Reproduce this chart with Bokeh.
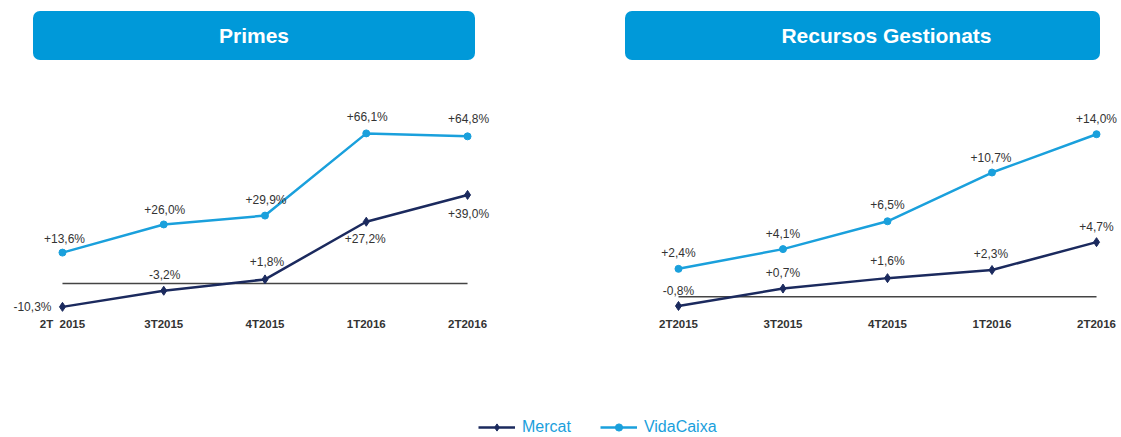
from bokeh.plotting import figure
from bokeh.models import (ColumnDataSource, Range1d, FixedTicker, Div, Legend, LegendItem, LabelSet)
from bokeh.layouts import column, row
from bokeh.core.properties import value
from bokeh.embed import file_html
from bokeh.resources import INLINE

# ---------------- data ----------------
quarters_primes = ["2T \u00a02015", "3T2015", "4T2015", "1T2016", "2T2016"]
quarters_recursos = ["2T2015", "3T2015", "4T2015", "1T2016", "2T2016"]

primes_mercat = [-10.3, -3.2, 1.8, 27.2, 39.0]
primes_vidacaixa = [13.6, 26.0, 29.9, 66.1, 64.8]

recursos_mercat = [-0.8, 0.7, 1.6, 2.3, 4.7]
recursos_vidacaixa = [2.4, 4.1, 6.5, 10.7, 14.0]

titles = ["Primes", "Recursos Gestionats"]
series_names = ["Mercat", "VidaCaixa"]

# ---------------- styles ----------------
NAVY = "#1B2A5E"
LIGHT = "#1AA0DC"
BOX = "#0099D9"
TXT = "#333333"
FONT = "Liberation Sans"


def fmt(v):
    s = ("%+.1f" % v).replace(".", ",")
    return s + "%"


def make_chart(cats, mercat, vida, x_range, y_range, width, height, border_bottom,
               mercat_offsets, vida_offsets):
    p = figure(width=width, height=height, output_backend="svg", toolbar_location=None,
               x_range=x_range, y_range=y_range,
               min_border_left=0, min_border_right=0, min_border_top=0,
               min_border_bottom=border_bottom)
    p.outline_line_color = None
    p.background_fill_color = "white"
    p.border_fill_color = "white"
    p.grid.visible = False
    p.yaxis.visible = False

    xs = list(range(len(cats)))
    ax = p.xaxis[0]
    ax.ticker = FixedTicker(ticks=xs)
    ax.major_label_overrides = {i: c for i, c in enumerate(cats)}
    ax.axis_line_color = None
    ax.major_tick_line_color = None
    ax.minor_tick_line_color = None
    ax.major_tick_out = 0
    ax.major_label_standoff = 2
    ax.major_label_text_font = FONT
    ax.major_label_text_font_style = "bold"
    ax.major_label_text_font_size = "11.5px"
    ax.major_label_text_color = TXT

    # zero line
    p.segment(x0=[xs[0]], x1=[xs[-1]], y0=[0], y1=[0], line_color="#444444", line_width=1.5)

    src_m = ColumnDataSource(dict(x=xs, y=mercat, lab=[fmt(v) for v in mercat],
                                  dx=[o[0] for o in mercat_offsets],
                                  dy=[o[1] for o in mercat_offsets]))
    src_v = ColumnDataSource(dict(x=xs, y=vida, lab=[fmt(v) for v in vida],
                                  dx=[o[0] for o in vida_offsets],
                                  dy=[o[1] for o in vida_offsets]))

    p.line("x", "y", source=src_v, line_color=LIGHT, line_width=2.5)
    p.scatter("x", "y", source=src_v, marker="circle", size=7, fill_color=LIGHT, line_color=LIGHT)
    p.line("x", "y", source=src_m, line_color=NAVY, line_width=2.5)
    p.scatter("x", "y", source=src_m, marker="diamond", size=9, fill_color=NAVY, line_color=NAVY)

    for src in (src_m, src_v):
        ls = LabelSet(x="x", y="y", text="lab", source=src, x_offset="dx", y_offset="dy",
                      text_font=value(FONT), text_font_size=value("12px"), text_color=TXT,
                      text_align="center", text_baseline="middle")
        p.add_layout(ls)
    return p


# left chart: Primes
left = make_chart(quarters_primes, primes_mercat, primes_vidacaixa,
                  Range1d(-0.612, 4.918), Range1d(-14.1, 93.8),
                  560, 320, 75,
                  [(-30, 0), (1, 16), (2, 17), (-1, -17), (1, -19)],
                  [(2, 14), (1, 14), (1, 16), (1, 16), (1, 17)])

# right chart: Recursos Gestionats
right = make_chart(quarters_recursos, recursos_mercat, recursos_vidacaixa,
                   Range1d(-1.129, 4.239), Range1d(-1.62, 19.49),
                   561, 320, 73,
                   [(0, 15), (0, 16), (0, 17), (-1, 16), (0, 15)],
                   [(0, 16), (0, 15), (0, 16), (-1, 15), (0, 15)])


def title_div(text, width, left_px, box_w, pad_left):
    html = ('<div style="position:absolute; left:%dpx; top:11px; width:%dpx; height:49px; '
            'background:%s; border-radius:7px; color:white; font-family:\'%s\'; '
            'font-weight:bold; font-size:21px; line-height:49px; text-align:center; '
            'box-sizing:border-box; padding-left:%dpx;">%s</div>'
            % (left_px, box_w, BOX, FONT, pad_left, text))
    return Div(text=html, width=width, height=70, styles={"position": "relative", "margin": "0"})


d_left = title_div(titles[0], 560, 33, 442, 0)
d_right = title_div(titles[1], 561, 65, 475, 48)

# legend strip (legend renderers drawn off-range, only their legend glyphs show)
leg = figure(width=1121, height=47, output_backend="svg", toolbar_location=None,
             x_range=Range1d(100, 101), y_range=Range1d(100, 101),
             min_border_left=0, min_border_right=0, min_border_top=0, min_border_bottom=0)
leg.outline_line_color = None
leg.axis.visible = False
leg.grid.visible = False
lx = list(range(len(primes_mercat)))
r1 = leg.line(x=lx, y=primes_mercat, line_color=NAVY, line_width=2.5)
r2 = leg.scatter(x=lx, y=primes_mercat, marker="diamond", size=8, fill_color=NAVY, line_color=NAVY)
r3 = leg.line(x=lx, y=primes_vidacaixa, line_color=LIGHT, line_width=2.5)
r4 = leg.scatter(x=lx, y=primes_vidacaixa, marker="circle", size=6, fill_color=LIGHT, line_color=LIGHT)
legend = Legend(items=[LegendItem(label=series_names[0], renderers=[r1, r2]),
                       LegendItem(label=series_names[1], renderers=[r3, r4])],
                orientation="horizontal", location=(478, 1), padding=0, margin=0,
                spacing=29, glyph_width=37, glyph_height=18, label_height=18,
                label_standoff=7, label_text_font=FONT, label_text_font_size="16px",
                label_text_color=LIGHT, border_line_color=None, background_fill_alpha=0)
leg.add_layout(legend, "center")

layout = column(row(d_left, d_right, spacing=0), row(left, right, spacing=0), leg, spacing=0)

open("out.html", "w").write(file_html(layout, INLINE))
